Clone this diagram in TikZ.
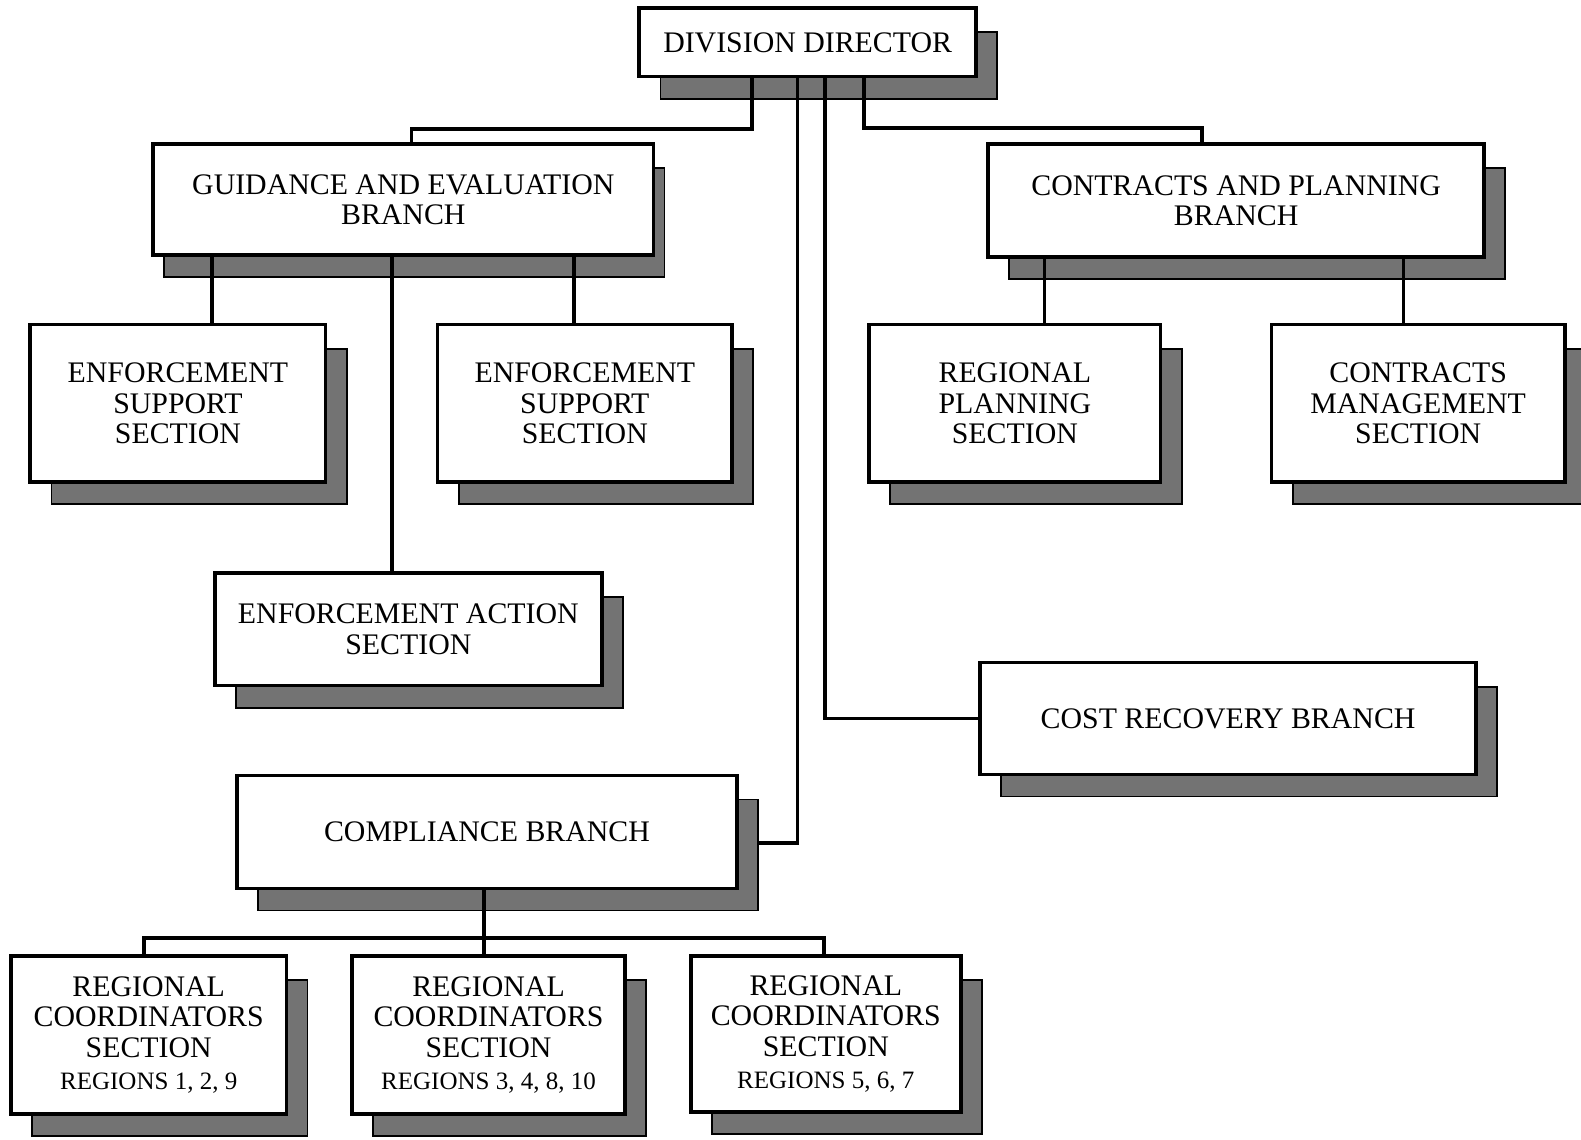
\documentclass[tikz,border=0pt]{standalone}
\usepackage{fontspec}
\setmainfont{Liberation Serif}
\usetikzlibrary{calc}
\begin{document}
\begin{tikzpicture}[x=0.5pt,y=-0.5pt,
  box/.style={draw=black, line width=1.8pt, fill=white, align=center,
    inner sep=0pt, font=\fontsize{14.8}{15}\selectfont},
  shadowfill/.style={fill=black!55, draw=black, line width=0.9pt},
  conn/.style={draw=black, line width=1.8pt}]
% box with drop shadow: [dx] name x1 y1 x2 y2 text
\newcommand\orgbox[6][21]{%
  \filldraw[shadowfill] ({#3+#1},{#4+24}) rectangle ({#5+#1},{#6+22});
  \node[box, minimum width={(#5-#3)*0.5pt}, minimum height={(#6-#4)*0.5pt}]
    (#2) at ({(#3+#5)/2},{(#4+#6)/2}) {\boxtext};}
\newcommand\regline[1]{\\[1pt]{\fontsize{12.4}{14}\selectfont #1}}

\useasboundingbox (0,0) rectangle (1568,1130);

\def\boxtext{DIVISION DIRECTOR}\orgbox{dir}{634}{8}{968}{76}
\def\boxtext{GUIDANCE AND EVALUATION\\BRANCH}\orgbox[11]{ge}{152}{143}{648}{253}
\def\boxtext{CONTRACTS AND PLANNING\\BRANCH}\orgbox{cp}{980}{143}{1472}{255}
\def\boxtext{ENFORCEMENT\\SUPPORT\\SECTION}\orgbox{esa}{30}{322}{323}{478}
\def\boxtext{ENFORCEMENT\\SUPPORT\\SECTION}\orgbox{esb}{434}{322}{726}{478}
\def\boxtext{REGIONAL\\PLANNING\\SECTION}\orgbox{rp}{862}{322}{1151}{478}
\def\boxtext{CONTRACTS\\MANAGEMENT\\SECTION}\orgbox{cm}{1261}{322}{1552}{478}
\def\boxtext{ENFORCEMENT ACTION\\SECTION}\orgbox{ea}{213}{568}{597}{680}
\def\boxtext{COST RECOVERY BRANCH}\orgbox{cr}{972}{657}{1464}{768}
\def\boxtext{COMPLIANCE BRANCH}\orgbox{cb}{235}{769}{731}{881}
\def\boxtext{REGIONAL\\COORDINATORS\\SECTION\regline{REGIONS 1, 2, 9}}\orgbox{rca}{11}{948}{284}{1105}
\def\boxtext{REGIONAL\\COORDINATORS\\SECTION\regline{REGIONS 3, 4, 8, 10}}\orgbox{rcb}{349}{948}{620}{1105}
\def\boxtext{REGIONAL\\COORDINATORS\\SECTION\regline{REGIONS 5, 6, 7}}\orgbox{rcc}{685}{948}{953}{1103}

% director to branches
\draw[conn] (746,0 |- dir.south) |- (408,128) -- (408,0 |- ge.north);
\draw[conn] (857,0 |- dir.south) |- (1192,127) -- (1192,0 |- cp.north);
\coordinate (cbtap) at ($(cb.east |- 0,836)+(20,0)$);
\draw[conn] (791,0 |- dir.south) |- (cbtap);
\draw[conn] (818,0 |- dir.south) |- (cr.west);

% guidance and evaluation sections
\draw[conn] (210,0 |- ge.south) -- (210,0 |- esa.north);
\draw[conn] (569,0 |- ge.south) -- (569,0 |- esb.north);
\draw[conn] (389,0 |- ge.south) -- (389,0 |- ea.north);

% contracts and planning sections
\draw[conn] (1036,0 |- cp.south) -- (1036,0 |- rp.north);
\draw[conn] (1392,0 |- cp.south) -- (1392,0 |- cm.north);

% compliance regional sections
\coordinate (bus) at (480,930);
\draw[conn] (480,0 |- cb.south) -- (480,0 |- rcb.north);
\draw[conn] (143,0 |- rca.north) |- (bus) -| (817,0 |- rcc.north);
\end{tikzpicture}
\end{document}
